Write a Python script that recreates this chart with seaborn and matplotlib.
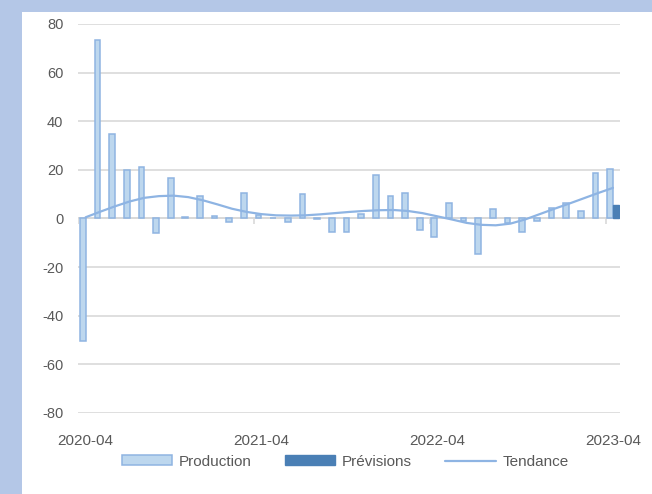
import numpy as np
import pandas as pd
import matplotlib.pyplot as plt
from matplotlib.patches import Patch, Rectangle
from matplotlib.lines import Line2D
import seaborn as sns

# Données mensuelles
mois = pd.period_range("2020-04", "2023-04", freq="M").strftime("%Y-%m").tolist()
production = [-50.5, 73.4, 34.7, 19.8, 21.0, -6.0, 16.6, 0.8, 9.2, 1.1,
              -1.5, 10.3, 1.6, 0.4, -1.6, 10.0, -0.3, -5.5, -5.4, 2.0,
              17.8, 9.2, 10.5, -4.8, -7.7, 6.4, -1.1, -14.4, 3.8, -1.8,
              -5.5, -1.0, 4.2, 6.4, 3.1, 18.8, 20.3]
previsions = [np.nan] * 36 + [5.5]
tendance = [0.5, 2.8, 5.0, 7.0, 8.5, 9.2, 9.4, 8.8, 7.5, 5.8,
            4.0, 2.7, 1.8, 1.3, 1.2, 1.3, 1.7, 2.2, 2.7, 3.1,
            3.4, 3.5, 3.1, 2.2, 0.9, -0.4, -1.8, -2.6, -2.8, -2.1,
            -0.4, 1.8, 4.0, 6.1, 8.3, 10.5, 12.6]
ticks_labels = ["2020-04", "2021-04", "2022-04", "2023-04"]

c_prod = "#bdd7ee"
c_prod_edge = "#8fb4e1"
c_prev = "#4a7fb5"
c_tend = "#8eb4e3"
c_grid = "#d9d9d9"
c_text = "#595959"

df = pd.DataFrame({
    "Mois": mois * 2,
    "Série": ["Production"] * len(mois) + ["Prévisions"] * len(mois),
    "Valeur": production + previsions,
})
df_tend = pd.DataFrame({"pos": np.arange(len(mois)), "Tendance": tendance})

sns.set_theme(style="white")
plt.rcParams["font.family"] = ["Liberation Sans", "DejaVu Sans"]
plt.rcParams["axes.unicode_minus"] = False

fig = plt.figure(figsize=(6.52, 4.94), dpi=100)
fig.patch.set_facecolor("#b4c7e7")
fig.patches.append(Rectangle((22 / 652, 0), 1, 1 - 12 / 494, transform=fig.transFigure,
                             facecolor="white", edgecolor="none", zorder=-1))

ax = fig.add_axes([78.3 / 652, 1 - 413 / 494, (620.3 - 78.3) / 652, (413 - 24) / 494])
ax.set_facecolor("none")

sns.barplot(data=df, x="Mois", y="Valeur", hue="Série", order=mois,
            hue_order=["Production", "Prévisions"],
            palette={"Production": c_prod, "Prévisions": c_prev},
            saturation=1, width=0.78, ax=ax, legend=False, zorder=3)
for bar in ax.containers[0]:
    bar.set_edgecolor(c_prod_edge)
    bar.set_linewidth(1.1)
for bar in ax.containers[1]:
    bar.set_edgecolor(c_prev)
    bar.set_linewidth(1.0)

sns.lineplot(data=df_tend, x="pos", y="Tendance", color=c_tend, linewidth=1.6,
             ax=ax, zorder=4)

# axe horizontal à zéro avec graduations entre catégories
ax.axhline(0, color=c_grid, linewidth=1.3, zorder=2)
idx = [mois.index(t) for t in ticks_labels]
ax.vlines([i - 0.5 for i in idx], -2.3, 0.6, color=c_grid, linewidth=1.2, zorder=2)

ax.set_ylim(-80, 80)
ax.set_xlim(-0.5, len(mois) - 0.5)
ax.set_yticks(np.arange(-80, 81, 20))
ax.yaxis.grid(True, color=c_grid, linewidth=1.2, zorder=0)
ax.set_xticks(idx)
ax.set_xticklabels(ticks_labels)
ax.tick_params(axis="x", length=0, pad=15, labelsize=11, labelcolor=c_text)
ax.tick_params(axis="y", length=0, pad=10.7, labelsize=10.5, labelcolor=c_text)
ax.set_xlabel("")
ax.set_ylabel("")
sns.despine(ax=ax, left=True, bottom=True)

handles = [
    Patch(facecolor=c_prod, edgecolor=c_prod_edge, linewidth=1.1),
    Patch(facecolor=c_prev, edgecolor=c_prev),
    Line2D([0], [0], color=c_tend, linewidth=1.6),
]
ax.legend(handles, ["Production", "Prévisions", "Tendance"], loc="center",
          bbox_to_anchor=(0.4926, -0.125), ncol=3, frameon=False, fontsize=11,
          labelcolor=c_text, handlelength=3.3, handleheight=0.6,
          handletextpad=0.45, columnspacing=2.15)

fig.savefig("out.png", dpi=100)
